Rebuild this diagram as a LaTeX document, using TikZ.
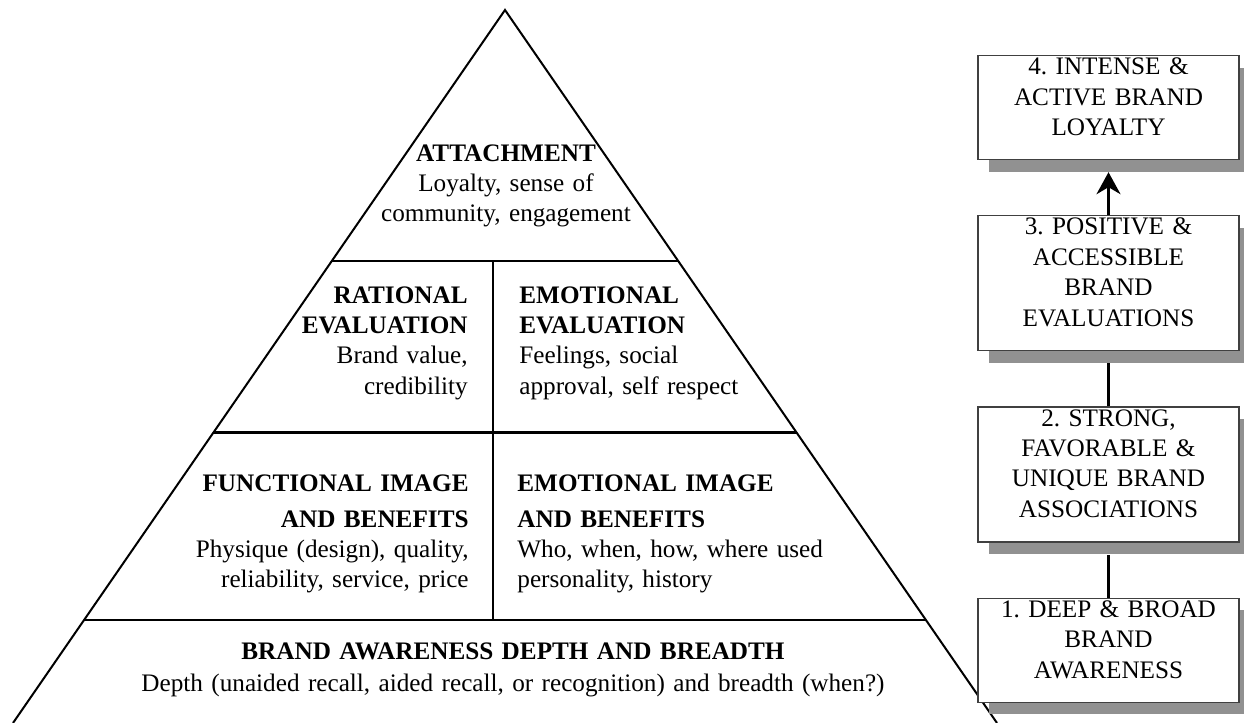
\documentclass[tikz,border=0pt]{standalone}
\usepackage{fontspec}
\setmainfont{Liberation Serif}
\usetikzlibrary{positioning,shadows,arrows.meta,calc}

\begin{document}
\frenchspacing
\begin{tikzpicture}[x=0.5pt, y=-0.5pt,
  every node/.style={inner sep=0pt, font=\fontsize{12.6}{15.2}\selectfont},
  side/.style={line width=1pt},
  split/.style={line width=1.4pt},
  lvl/.style={draw=black!75, line width=0.6pt, fill=white, text width=130.5pt, align=center, text height=9.5pt,
    drop shadow={shadow xshift=5.5pt, shadow yshift=-6pt, fill=black!43, opacity=1}},
  short/.style={lvl, text depth=42.5pt},
  tall/.style={lvl, text depth=58pt},
  link/.style={line width=1.3pt}]

% Fix the page to the size of the figure
\clip (0,0) rectangle (1244,723);

% Define the corners of the pyramid
\coordinate (apex) at (505,10);
\coordinate (bl) at (13,723);
\coordinate (br) at (997,723);

% Ends of the dividing lines
\coordinate (l1) at ($(apex)!0.352!(bl)$);
\coordinate (r1) at ($(apex)!0.352!(br)$);
\coordinate (l2) at ($(apex)!0.593!(bl)$);
\coordinate (r2) at ($(apex)!0.593!(br)$);
\coordinate (l3) at ($(apex)!0.8555!(bl)$);
\coordinate (r3) at ($(apex)!0.8555!(br)$);
\coordinate (m1) at (493,261);
\coordinate (m3) at (493,620);

% Draw the pyramid
\draw[side] (bl) -- (apex) -- (br);
\draw[split] (l1) -- (r1);
\draw[split] (l2) -- (r2);
\draw[split] (l3) -- (r3);
\draw[split] (m1) -- (m3);

% Texts in the pyramid
\node[anchor=base, text width=160pt, align=center] (attach) at (506,161) {\textbf{ATTACHMENT}\\ Loyalty, sense of\\ community, engagement};
\node[anchor=base east, text width=150pt, align=right] (rational) at (468,303) {\textbf{RATIONAL}\\ \textbf{EVALUATION}\\ Brand value,\\ credibility};
\node[anchor=base west, text width=150pt, align=left] (emoeval) at (519,303) {\textbf{EMOTIONAL}\\ \textbf{EVALUATION}\\ Feelings, social\\ approval, self respect};
\node[anchor=base east, text width=200pt, align=right] (functional) at (469,491) {\textbf{FUNCTIONAL IMAGE}\\[2.8pt] \textbf{AND BENEFITS}\\ Physique (design), quality,\\ reliability, service, price};
\node[anchor=base west, text width=200pt, align=left] (emoimage) at (517,491) {\textbf{EMOTIONAL IMAGE}\\[2.8pt] \textbf{AND BENEFITS}\\ Who, when, how, where used\\ personality, history};
\node[anchor=base, text width=420pt, align=center] (aware) at (513,659) {\textbf{BRAND AWARENESS DEPTH AND BREADTH}\\[0.8pt] Depth (unaided recall, aided recall, or recognition) and breadth (when?)};

% Steps on the right
\node[short, anchor=north] (lvl4) at (1108.5,55) {4. INTENSE \&\\ ACTIVE BRAND\\ LOYALTY};
\node[tall, below=27.5pt of lvl4] (lvl3) {3. POSITIVE \&\\ ACCESSIBLE\\ BRAND\\ EVALUATIONS};
\node[tall, below=27.5pt of lvl3] (lvl2) {2. STRONG,\\ FAVORABLE \&\\ UNIQUE BRAND\\ ASSOCIATIONS};
\node[short, below=27.5pt of lvl2] (lvl1) {1. DEEP \& BROAD\\ BRAND\\ AWARENESS};

\draw[link, -{Stealth[length=11pt, width=12pt, inset=3.5pt]}] (lvl3.north) -- ([yshift=-6pt]lvl4.south);
\draw[link] (lvl2.north) -- ([yshift=-6pt]lvl3.south);
\draw[link] (lvl1.north) -- ([yshift=-6pt]lvl2.south);

\end{tikzpicture}
\end{document}
